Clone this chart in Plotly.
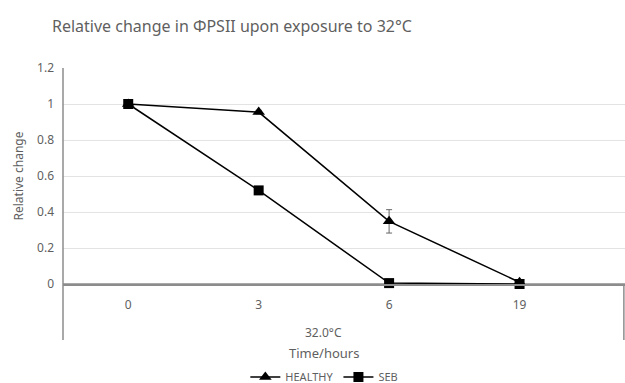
import plotly.graph_objects as go

time_labels = ["0", "3", "6", "19"]
healthy = [1.0, 0.955, 0.348, 0.01]
healthy_err = [0.0, 0.01, 0.065, 0.01]
seb = [1.0, 0.52, 0.005, 0.0]
seb_err = [0.0, 0.015, 0.0, 0.0]
y_ticks = [0, 0.2, 0.4, 0.6, 0.8, 1.0, 1.2]
y_tick_text = ["0", "0.2", "0.4", "0.6", "0.8", "1", "1.2"]

xpos = list(range(len(time_labels)))
gray_txt = "#5f5f5f"
font_family = "Noto Sans, Liberation Sans, sans-serif"

fig = go.Figure()
fig.add_trace(go.Scatter(
    x=xpos, y=healthy, name="HEALTHY", mode="lines+markers",
    line=dict(color="black", width=1.5),
    marker=dict(symbol="triangle-up", size=11, color="black"),
    error_y=dict(type="data", array=healthy_err, color="#666666", thickness=1, width=3),
    cliponaxis=False,
))
fig.add_trace(go.Scatter(
    x=xpos, y=seb, name="SEB", mode="lines+markers",
    line=dict(color="black", width=1.5),
    marker=dict(symbol="square", size=10, color="black"),
    error_y=dict(type="data", array=seb_err, color="#666666", thickness=1, width=3),
    cliponaxis=False,
))

fig.update_layout(
    width=625, height=383,
    margin=dict(l=63, r=0, t=68, b=99, autoexpand=False),
    paper_bgcolor="white", plot_bgcolor="white",
    font=dict(family=font_family, color=gray_txt, size=12),
    title=dict(text="Relative change in ΦPSII upon exposure to 32°C",
               x=52/625, xanchor="left", y=1 - 26/383, yanchor="middle",
               font=dict(size=16, color=gray_txt)),
    showlegend=True,
    legend=dict(orientation="h", x=0.465, xanchor="center", y=(284 - 377) / 216,
                yanchor="middle", font=dict(size=11, color=gray_txt),
                itemwidth=30, bgcolor="rgba(0,0,0,0)"),
    xaxis=dict(range=[-0.5, (625 - 128) / 130.5], tickvals=xpos, ticktext=time_labels,
               showgrid=False, zeroline=False, showline=True, linecolor="#8c8c8c",
               linewidth=1.5, ticks="", ticklabelstandoff=9,
               tickfont=dict(size=12, color=gray_txt)),
    yaxis=dict(range=[0, 1.2], tickvals=y_ticks, ticktext=y_tick_text,
               showgrid=True, gridcolor="#e3e3e3", gridwidth=1, zeroline=False,
               showline=False, ticks="", ticklabelstandoff=8,
               tickfont=dict(size=12, color=gray_txt),
               title=dict(text="Relative change", font=dict(size=12, color=gray_txt), standoff=10)),
)

fig.add_shape(type="line", xref="paper", yref="paper", x0=0, x1=0, y0=1, y1=(284 - 340) / 216,
              line=dict(color="#8c8c8c", width=1.5))
fig.add_shape(type="line", xref="paper", yref="paper", x0=0.998, x1=0.998, y0=0, y1=(284 - 340) / 216,
              line=dict(color="#8c8c8c", width=1.5))
fig.add_shape(type="line", xref="paper", yref="y", x0=0, x1=1, y0=0, y1=0,
              line=dict(color="#8c8c8c", width=1.5), layer="below")

fig.add_annotation(text="32.0°C", x=1.5, xref="x", y=(284 - 332) / 216, yref="paper",
                   yanchor="middle", showarrow=False, font=dict(size=12, color=gray_txt))
fig.add_annotation(text="Time/hours", x=1.5, xref="x", y=(284 - 353) / 216, yref="paper",
                   yanchor="middle", showarrow=False, font=dict(size=13, color=gray_txt))

fig.write_html("out.html", config={"displayModeBar": False},
               post_script="document.body.style.margin='0';document.body.style.overflow='hidden';")
